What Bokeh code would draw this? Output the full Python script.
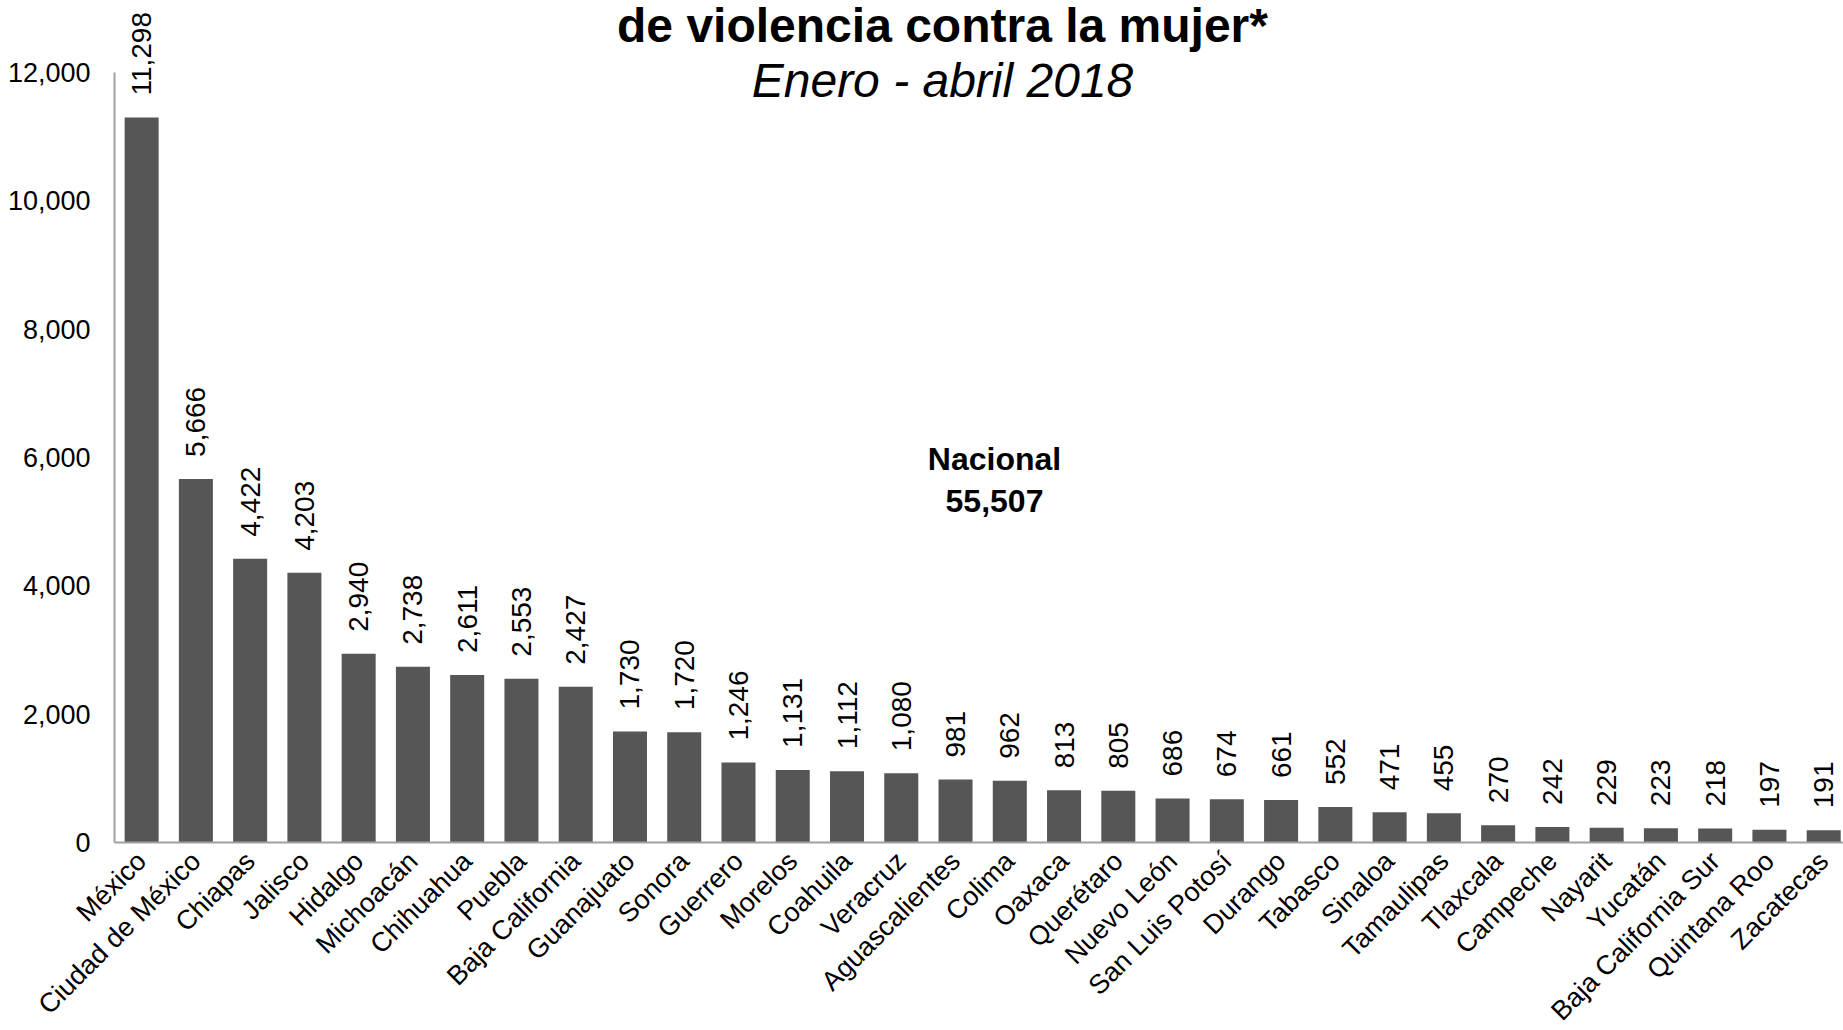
import math
from bokeh.plotting import figure
from bokeh.models import (ColumnDataSource, Range1d, FixedTicker, NumeralTickFormatter,
                          LabelSet, Label)
from bokeh.core.properties import value
from bokeh.embed import file_html
from bokeh.resources import INLINE

# ---- data ----
estados = ["México", "Ciudad de México", "Chiapas", "Jalisco", "Hidalgo", "Michoacán",
           "Chihuahua", "Puebla", "Baja California", "Guanajuato", "Sonora", "Guerrero",
           "Morelos", "Coahuila", "Veracruz", "Aguascalientes", "Colima", "Oaxaca",
           "Querétaro", "Nuevo León", "San Luis Potosí", "Durango", "Tabasco", "Sinaloa",
           "Tamaulipas", "Tlaxcala", "Campeche", "Nayarit", "Yucatán", "Baja California Sur",
           "Quintana Roo", "Zacatecas"]
valores = [11298, 5666, 4422, 4203, 2940, 2738, 2611, 2553, 2427, 1730, 1720, 1246,
           1131, 1112, 1080, 981, 962, 813, 805, 686, 674, 661, 552, 471,
           455, 270, 242, 229, 223, 218, 197, 191]
y_ticks = [0, 2000, 4000, 6000, 8000, 10000, 12000]
y_max = 12000
total_nacional = 55507
titulo = "de violencia contra la mujer*"
subtitulo = "Enero - abril 2018"

FONT = "Liberation Sans"

# ---- layout (pixels) ----
W, H = 1843, 1030
axis_x_px = 114     # figure column of the value axis
cat_px = 54.26      # width of one category
axis_px = 842       # figure row of value 0
top_px = 72         # figure row of y_max
u_per_px = y_max / (axis_px - top_px)


def px_to_x(px):
    return -0.5 + (px - axis_x_px) / cat_px


def px_to_y(py):
    return (axis_px - py) * u_per_px


xs = list(range(len(estados)))
src = ColumnDataSource(dict(x=xs, y=valores, lab=[f"{v:,}" for v in valores]))

p = figure(width=W, height=H, output_backend="svg", toolbar_location=None,
           x_range=Range1d(px_to_x(0), px_to_x(W)),
           y_range=Range1d(px_to_y(H), px_to_y(0)),
           min_border_left=0, min_border_right=0, min_border_top=0,
           min_border_bottom=0)
p.outline_line_color = None
p.xgrid.visible = False
p.ygrid.visible = False
p.background_fill_color = "white"

p.vbar(x="x", top="y", width=0.627, bottom=0, source=src,
       fill_color="#565656", line_color=None)

# y axis (drawn inside the frame at the left edge of the first category)
ya = p.yaxis[0]
ya.fixed_location = -0.5
ya.ticker = FixedTicker(ticks=y_ticks)
ya.formatter = NumeralTickFormatter(format="0,0")
ya.bounds = (0, y_max)
ya.axis_line_color = "#a0a0a0"
ya.axis_line_width = 2
ya.major_tick_line_color = None
ya.major_tick_out = 0
ya.major_tick_in = 0
ya.minor_tick_line_color = None
ya.major_label_standoff = 24
ya.major_label_text_font = FONT
ya.major_label_text_font_size = "27px"
ya.major_label_text_color = "black"

# x axis (fixed at value 0)
xa = p.xaxis[0]
xa.fixed_location = 0
xa.ticker = FixedTicker(ticks=xs)
xa.major_label_overrides = {i: n for i, n in enumerate(estados)}
xa.major_label_orientation = math.pi / 4
xa.bounds = (-0.5, px_to_x(W))
xa.axis_line_color = "#a0a0a0"
xa.axis_line_width = 2
xa.major_tick_line_color = None
xa.major_tick_out = 0
xa.major_tick_in = 0
xa.minor_tick_line_color = None
xa.major_label_standoff = 14
xa.major_label_text_font = FONT
xa.major_label_text_font_size = "27px"
xa.major_label_text_color = "black"

labels = LabelSet(x="x", y="y", text="lab", source=src, angle=math.pi / 2,
                  text_align="left", text_baseline="middle", y_offset=22,
                  text_font=value(FONT), text_font_size=value("28px"),
                  text_color="black")
p.add_layout(labels)

cx = px_to_x(994)
nac1 = Label(x=cx, y=px_to_y(458), text="Nacional", text_align="center",
             text_baseline="middle", text_font=FONT, text_font_size="32px",
             text_font_style="bold", text_color="black")
nac2 = Label(x=cx, y=px_to_y(500), text=f"{total_nacional:,}",
             text_align="center", text_baseline="middle", text_font=FONT,
             text_font_size="32px", text_font_style="bold", text_color="black")
p.add_layout(nac1)
p.add_layout(nac2)

tx = px_to_x(942)
t1 = Label(x=tx, y=px_to_y(25), text=titulo, text_align="center",
           text_baseline="alphabetic", text_font=FONT, text_font_size="48px",
           text_font_style="bold", text_color="black")
t2 = Label(x=tx, y=px_to_y(80), text=subtitulo, text_align="center",
           text_baseline="alphabetic", text_font=FONT, text_font_size="48px",
           text_font_style="italic", text_color="black")
p.add_layout(t1)
p.add_layout(t2)

open("out.html", "w").write(file_html(p, INLINE))
